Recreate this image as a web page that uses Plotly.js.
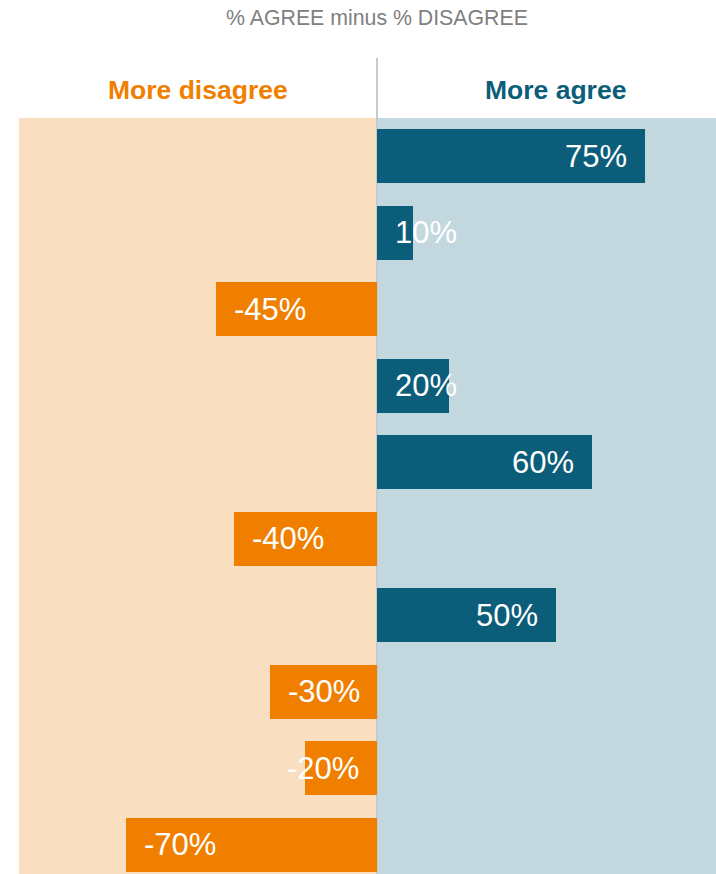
<!DOCTYPE html>
<html>
<head>
<meta charset="utf-8">
<script src="https://cdn.plot.ly/plotly-3.0.1.min.js"></script>
<style>html,body{margin:0;padding:0;background:#fff;}#chart{width:716px;height:874px;}</style>
</head>
<body>
<div id="chart"></div>
<script>
// Data
const positions = [0, 1, 2, 3, 4, 5, 6, 7, 8, 9];
const netValues = [75, 10, -45, 20, 60, -40, 50, -30, -20, -70];
const valueLabels = ["75%", "10%", "-45%", "20%", "60%", "-40%", "50%", "-30%", "-20%", "-70%"];
const chartTitle = "% AGREE minus % DISAGREE";
const sideLabels = ["More disagree", "More agree"];

const ORANGE = "#F07F00";
const TEAL = "#0B5D7A";
const PEACH = "#FADEC0";
const LIGHTBLUE = "#C3D7DF";
const FONT = "Liberation Sans, Arial, sans-serif";

const W = 716, H = 874;
const mL = 19, mR = 0, mT = 118, mB = 0;
const xRange = [-100, 94.7];
const pxPerUnit = (W - mL - mR) / (xRange[1] - xRange[0]);

const canvas = document.createElement("canvas");
const ctx = canvas.getContext("2d");
ctx.font = "31px " + FONT;

const annotations = [];
netValues.forEach((v, i) => {
  const tw = ctx.measureText(valueLabels[i]).width;
  const fits = Math.abs(v) * pxPerUnit >= tw + 32;
  let x, xanchor, xshift;
  if (v >= 0) {
    if (fits) { x = v; xanchor = "right"; xshift = -16; }
    else { x = 0; xanchor = "left"; xshift = 16; }
  } else {
    if (fits) { x = v; xanchor = "left"; xshift = 16; }
    else { x = 0; xanchor = "right"; xshift = -16; }
  }
  annotations.push({
    x: x, y: positions[i], xref: "x", yref: "y",
    text: valueLabels[i], showarrow: false,
    xanchor: xanchor, yanchor: "middle", xshift: xshift,
    font: {family: FONT, size: 31, color: "#FFFFFF"}
  });
});

const plotH = H - mT - mB;
const headerY = 1 + (mT - 90) / plotH;
annotations.push({
  x: -50, y: headerY, xref: "x", yref: "paper", text: "<b>" + sideLabels[0] + "</b>",
  showarrow: false, xanchor: "center", yanchor: "middle",
  font: {family: FONT, size: 26.5, color: ORANGE}
});
annotations.push({
  x: 50, y: headerY, xref: "x", yref: "paper", text: "<b>" + sideLabels[1] + "</b>",
  showarrow: false, xanchor: "center", yanchor: "middle",
  font: {family: FONT, size: 26.5, color: TEAL}
});

const trace = {
  type: "bar",
  orientation: "h",
  x: netValues,
  y: positions,
  width: 0.705,
  marker: {color: netValues.map(v => v >= 0 ? TEAL : ORANGE), line: {width: 0}},
  hoverinfo: "none",
  showlegend: false
};

const layout = {
  width: W, height: H,
  margin: {l: mL, r: mR, t: mT, b: mB, pad: 0},
  paper_bgcolor: "#FFFFFF",
  plot_bgcolor: "rgba(0,0,0,0)",
  title: {
    text: chartTitle,
    font: {family: FONT, size: 21.3, color: "#808080"},
    x: (0 - xRange[0]) / (xRange[1] - xRange[0]), xref: "paper", xanchor: "center",
    y: 1 - 18 / H, yref: "container", yanchor: "middle"
  },
  xaxis: {range: xRange, showgrid: false, zeroline: false, showticklabels: false, showline: false, ticks: "", fixedrange: true},
  yaxis: {range: [9.38, -0.5], showgrid: false, zeroline: false, showticklabels: false, showline: false, ticks: "", fixedrange: true},
  shapes: [
    {type: "rect", xref: "x", yref: "paper", x0: xRange[0], x1: 0, y0: 0, y1: 1, fillcolor: PEACH, line: {width: 0}, layer: "below"},
    {type: "rect", xref: "x", yref: "paper", x0: 0, x1: xRange[1], y0: 0, y1: 1, fillcolor: LIGHTBLUE, line: {width: 0}, layer: "below"},
    {type: "line", xref: "x", yref: "paper", x0: 0, x1: 0, y0: 0, y1: 1 + (mT - 58) / plotH, line: {color: "#C0CBD4", width: 2}, layer: "below"}
  ],
  annotations: annotations,
  bargap: 0
};

Plotly.newPlot("chart", [trace], layout, {displayModeBar: false, staticPlot: true});
</script>
</body>
</html>
